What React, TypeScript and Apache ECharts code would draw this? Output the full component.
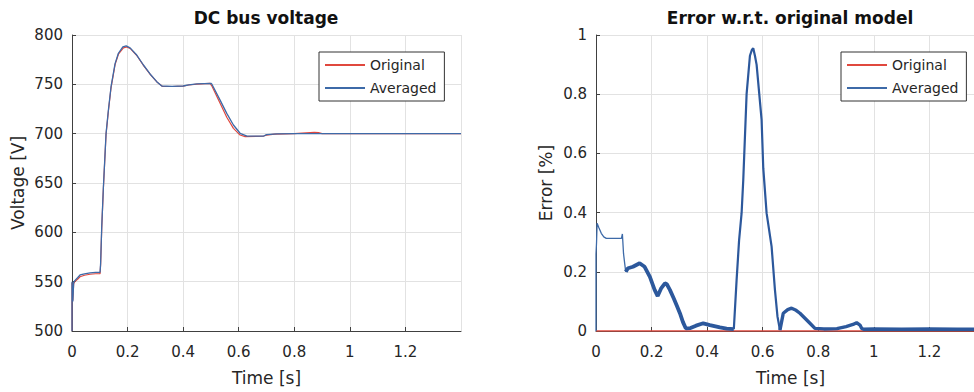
import React, { useEffect, useRef } from "react";
import * as echarts from "echarts";

// ---------- Data ----------
const timeTicks = [0, 0.2, 0.4, 0.6, 0.8, 1, 1.2, 1.4];
const voltageTicks = [500, 550, 600, 650, 700, 750, 800];
const errorTicks = [0, 0.2, 0.4, 0.6, 0.8, 1];

// DC bus voltage – Averaged model
const vAvgTime = [0, 0, 0.003, 0.006, 0.01, 0.02, 0.029, 0.045, 0.065, 0.085, 0.101, 0.103, 0.107, 0.113, 0.1225, 0.131, 0.1405, 0.155, 0.167, 0.183, 0.195, 0.209, 0.233, 0.257, 0.281, 0.305, 0.323, 0.36, 0.4, 0.42, 0.45, 0.5, 0.503, 0.533, 0.557, 0.581, 0.605, 0.63, 0.69, 0.7, 0.738, 0.8, 0.9, 1.0, 1.2, 1.4];
const vAvgValue = [500, 550, 530, 549, 551, 554, 556.8, 558, 559, 559.5, 559.5, 568.6, 605.7, 646, 700, 724, 747.6, 771, 781.5, 788, 789, 787, 779.7, 769.6, 760.5, 752.7, 748.3, 748, 748.3, 749.5, 750.5, 751, 750.3, 734, 720.6, 708.8, 700.4, 697.6, 697.6, 699, 699.7, 700, 700, 700, 700, 700];

// DC bus voltage – Original model
const vOrigTime = [0, 0, 0.003, 0.006, 0.01, 0.02, 0.029, 0.045, 0.065, 0.085, 0.101, 0.103, 0.107, 0.113, 0.1225, 0.131, 0.1405, 0.155, 0.167, 0.185, 0.197, 0.211, 0.235, 0.259, 0.283, 0.307, 0.325, 0.36, 0.4, 0.42, 0.45, 0.497, 0.503, 0.533, 0.557, 0.581, 0.605, 0.623, 0.69, 0.7, 0.73, 0.8, 0.857, 0.872, 0.887, 0.9, 1.0, 1.2, 1.4];
const vOrigValue = [500, 549, 531, 548, 550, 552.5, 555, 556.5, 557.5, 558, 558, 567, 604, 645, 699, 723, 746.5, 770, 780.5, 787, 788, 786, 778.5, 768.5, 759.5, 752, 748, 747.8, 748.1, 749.3, 750.3, 751, 748.5, 730.8, 716.6, 705.4, 698.6, 697, 697.6, 698.5, 699.5, 700, 701.2, 701.4, 701, 700, 700, 700, 700];

// Error w.r.t. original model – Original (identically zero)
const eOrigTime = [0, 1.4];
const eOrigValue = [0, 0];

// Error – Averaged, start-up part (thin trace)
const eAvgTime1 = [0, 0, 0.002, 0.004, 0.01, 0.019, 0.028, 0.037, 0.06, 0.0915, 0.095, 0.099, 0.103, 0.107];
const eAvgValue1 = [0, 0.26, 0.3, 0.364, 0.35, 0.33, 0.318, 0.313, 0.313, 0.313, 0.328, 0.262, 0.23, 0.2];

// Error – Averaged, noisy part before the peak (thick trace)
const eAvgTime2 = [0.107, 0.115, 0.133, 0.157, 0.175, 0.194, 0.211, 0.222, 0.235, 0.248, 0.255, 0.266, 0.28, 0.291, 0.302, 0.313, 0.323, 0.34, 0.36, 0.386, 0.41, 0.446, 0.47, 0.496];
const eAvgValue2 = [0.2, 0.212, 0.217, 0.229, 0.217, 0.183, 0.139, 0.118, 0.145, 0.161, 0.158, 0.139, 0.11, 0.085, 0.06, 0.03, 0.009, 0.01, 0.018, 0.026, 0.02, 0.012, 0.008, 0.006];

// Error – Averaged, main peak
const eAvgTime3 = [0.496, 0.506, 0.515, 0.524, 0.53, 0.542, 0.554, 0.561, 0.566, 0.572, 0.578, 0.596, 0.602, 0.614, 0.632, 0.644, 0.653, 0.662];
const eAvgValue3 = [0.006, 0.172, 0.307, 0.398, 0.51, 0.8, 0.93, 0.95, 0.955, 0.93, 0.9, 0.713, 0.55, 0.398, 0.285, 0.139, 0.05, 0.003];

// Error – Averaged, tail
const eAvgTime4 = [0.662, 0.674, 0.69, 0.704, 0.72, 0.734, 0.77, 0.788, 0.82, 0.867, 0.9, 0.925, 0.938, 0.95, 0.956, 0.963, 1.0, 1.1, 1.2, 1.3, 1.4];
const eAvgValue4 = [0.003, 0.06, 0.072, 0.077, 0.07, 0.06, 0.026, 0.009, 0.007, 0.008, 0.015, 0.022, 0.028, 0.02, 0.009, 0.006, 0.007, 0.006, 0.007, 0.006, 0.006];

const seriesNames = ["Original", "Averaged"];

// ---------- Styles ----------
const RED = "#e0483e";
const BLUE = "#3d6aa8";
const BLUE_DARK = "#2c589c";
const AXIS = "#404040";
const TEXT = "#262626";
const GRIDLINE = "#e2e2e2";
const FONT = "DejaVu Sans";

const zip = (xs: number[], ys: number[]) => xs.map((x, i) => [x, ys[i]]);

function xAxisFor(gridIndex: number) {
  return {
    type: "value",
    gridIndex,
    min: timeTicks[0],
    max: timeTicks[timeTicks.length - 1],
    interval: timeTicks[1] - timeTicks[0],
    name: "Time [s]",
    nameLocation: "middle",
    nameGap: 38,
    nameTextStyle: { fontFamily: FONT, fontSize: 17, color: TEXT },
    axisLine: { show: true, onZero: false, lineStyle: { color: AXIS, width: 1 } },
    axisTick: { show: true, inside: true, length: 4, lineStyle: { color: AXIS } },
    axisLabel: {
      showMaxLabel: false,
      margin: 13,
      fontFamily: FONT,
      fontSize: 15,
      color: TEXT,
      formatter: (v: number) => String(Math.round(v * 10) / 10),
    },
    splitLine: { show: true, lineStyle: { color: GRIDLINE, width: 1 } },
  };
}

function yAxisFor(gridIndex: number, ticks: number[], name: string, nameGap: number) {
  return {
    type: "value",
    gridIndex,
    min: ticks[0],
    max: ticks[ticks.length - 1],
    interval: ticks[1] - ticks[0],
    name,
    nameLocation: "middle",
    nameGap,
    nameTextStyle: { fontFamily: FONT, fontSize: 17, color: TEXT },
    axisLine: { show: true, lineStyle: { color: AXIS, width: 1 } },
    axisTick: { show: true, inside: true, length: 4, lineStyle: { color: AXIS } },
    axisLabel: {
      margin: 9,
      fontFamily: FONT,
      fontSize: 15,
      color: TEXT,
      formatter: (v: number) => String(Math.round(v * 10) / 10),
    },
    splitLine: { show: true, lineStyle: { color: GRIDLINE, width: 1 } },
  };
}

function legendAt(left: number) {
  return {
    data: seriesNames,
    orient: "vertical",
    left,
    top: 52,
    padding: [6, 8, 6, 6],
    itemGap: 9,
    itemWidth: 40,
    itemHeight: 2,
    icon: "rect",
    backgroundColor: "#ffffff",
    borderColor: "#333333",
    borderWidth: 1,
    borderRadius: 0,
    textStyle: { fontFamily: FONT, fontSize: 14, color: TEXT },
    selectedMode: false,
  };
}

function lineSeries(name: string, xi: number, data: number[][], color: string, width: number, z = 2) {
  return {
    type: "line",
    name,
    xAxisIndex: xi,
    yAxisIndex: xi,
    data,
    showSymbol: false,
    symbol: "none",
    z,
    lineStyle: { color, width },
    itemStyle: { color },
  };
}

export default function App() {
  const ref = useRef<HTMLDivElement>(null);

  useEffect(() => {
    if (!ref.current) return;
    const chart = echarts.init(ref.current, undefined, { renderer: "svg" });
    chart.setOption({
      animation: false,
      backgroundColor: "#ffffff",
      textStyle: { fontFamily: FONT },
      title: [
        {
          text: "DC bus voltage",
          left: 266,
          top: 9,
          textAlign: "center",
          padding: 0,
          textStyle: { fontFamily: FONT, fontSize: 17, fontWeight: "bold", color: "#111" },
        },
        {
          text: "Error w.r.t. original model",
          left: 790,
          top: 9,
          textAlign: "center",
          padding: 0,
          textStyle: { fontFamily: FONT, fontSize: 17, fontWeight: "bold", color: "#111" },
        },
      ],
      legend: [legendAt(319), legendAt(841)],
      grid: [
        { left: 72, top: 35, width: 389, height: 296, containLabel: false },
        { left: 596, top: 35, width: 389, height: 296, containLabel: false },
      ],
      xAxis: [xAxisFor(0), xAxisFor(1)],
      yAxis: [
        yAxisFor(0, voltageTicks, "Voltage [V]", 46),
        yAxisFor(1, errorTicks, "Error [%]", 42),
      ],
      series: [
        lineSeries("Original", 0, zip(vOrigTime, vOrigValue), RED, 1.2),
        lineSeries("Averaged", 0, zip(vAvgTime, vAvgValue), BLUE, 1.3),
        lineSeries("Averaged", 1, zip(eAvgTime1, eAvgValue1), BLUE, 1.3),
        lineSeries("Averaged", 1, zip(eAvgTime2, eAvgValue2), BLUE_DARK, 3.8),
        lineSeries("Averaged", 1, zip(eAvgTime3, eAvgValue3), BLUE_DARK, 2.2),
        lineSeries("Averaged", 1, zip(eAvgTime4, eAvgValue4), BLUE_DARK, 3.4),
        lineSeries("Original", 1, zip(eOrigTime, eOrigValue), RED, 1.3, 1),
      ],
    });
    return () => chart.dispose();
  }, []);

  return (
    <div
      style={{
        position: "fixed",
        left: 0,
        top: 0,
        width: 974,
        height: 392,
        overflow: "hidden",
        background: "#fff",
      }}
    >
      <div ref={ref} style={{ width: 1000, height: 392 }} />
    </div>
  );
}
